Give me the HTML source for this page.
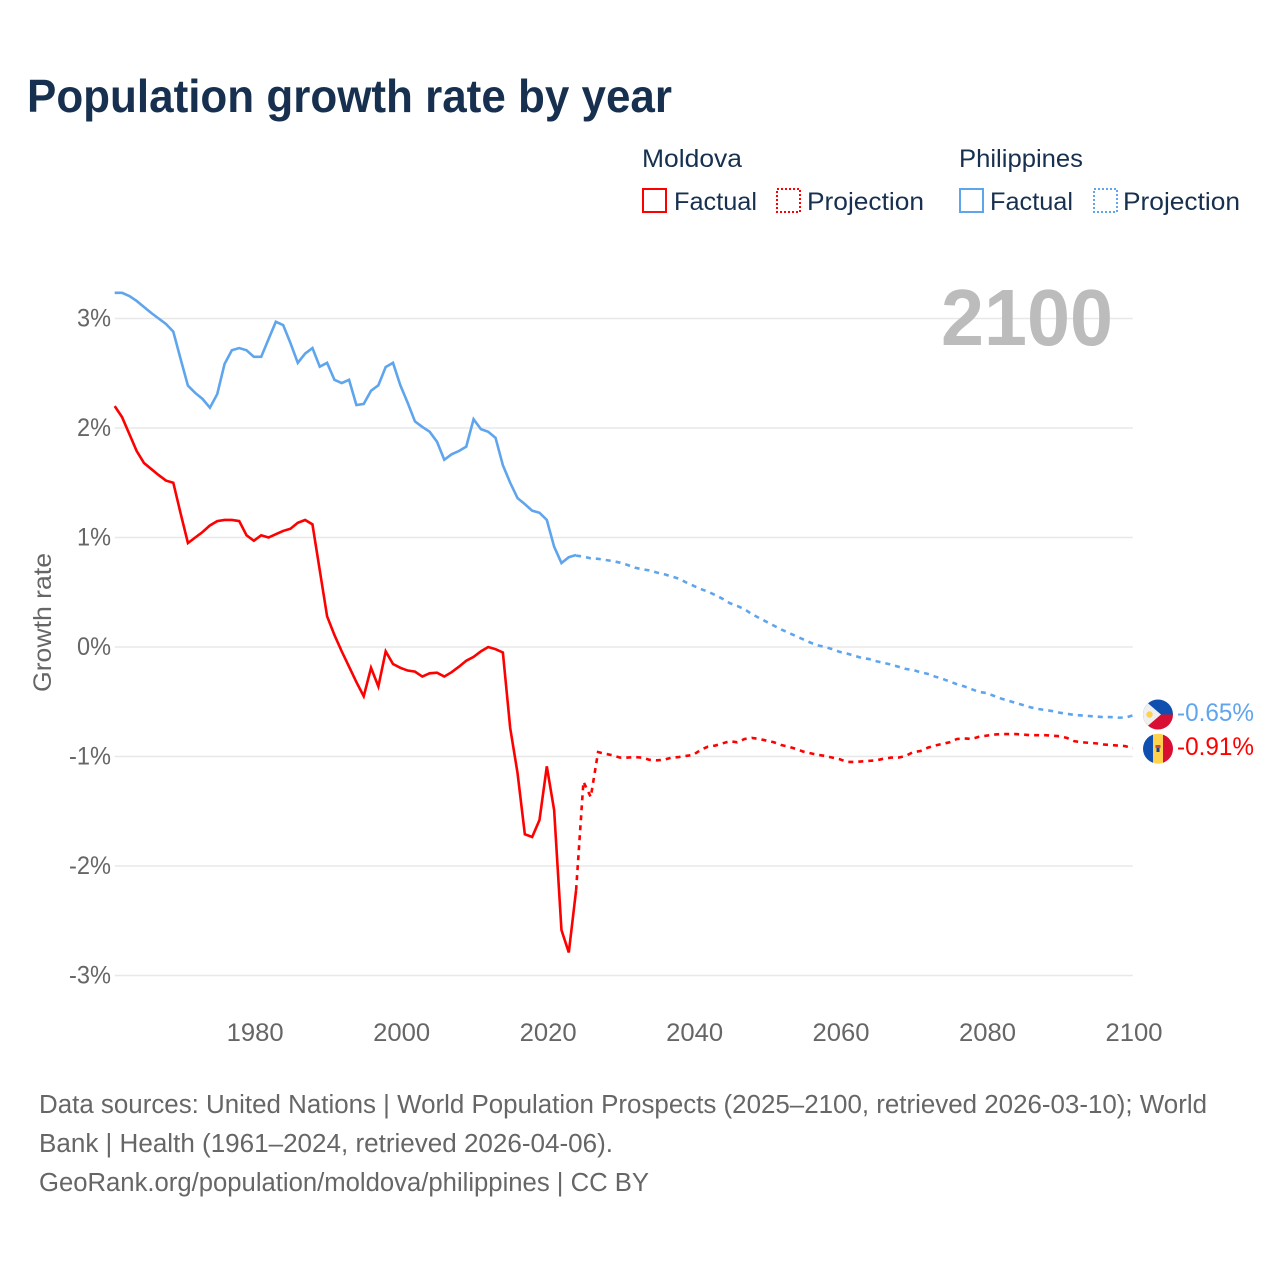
<!DOCTYPE html>
<html lang="en">
<head>
<meta charset="utf-8">
<title>Population growth rate by year</title>
<style>
html,body{margin:0;padding:0;background:#fff;}
svg{display:block;font-family:"Liberation Sans",sans-serif;}
.legend-text{font-size:25px;fill:#17304f;}
.tick{font-size:25px;fill:#666;}
.foot{font-size:25.5px;fill:#666;}
</style>
</head>
<body>
<svg id="chart" xmlns="http://www.w3.org/2000/svg" width="1280" height="1280" viewBox="0 0 1280 1280">
  <defs>
    <clipPath id="clip-ph"><circle cx="1158" cy="714.5" r="15"/></clipPath>
    <clipPath id="clip-md"><circle cx="1158" cy="748.7" r="15"/></clipPath>
  </defs>
  <rect width="1280" height="1280" fill="#fff"/>
  <text x="27" y="112" font-size="46" font-weight="700" fill="#17304f" textLength="645" lengthAdjust="spacingAndGlyphs">Population growth rate by year</text>

  <g>
    <text class="legend-text" x="642" y="167" textLength="100" lengthAdjust="spacingAndGlyphs">Moldova</text>
    <text class="legend-text" x="959" y="167" textLength="124" lengthAdjust="spacingAndGlyphs">Philippines</text>
    <rect x="643" y="189" width="23" height="23" fill="none" stroke="#ff0000" stroke-width="2"/>
    <text class="legend-text" x="674" y="210" textLength="83" lengthAdjust="spacingAndGlyphs">Factual</text>
    <rect x="777" y="189" width="23" height="23" fill="none" stroke="#ff0000" stroke-width="2" stroke-dasharray="2 2"/>
    <text class="legend-text" x="807" y="210" textLength="117" lengthAdjust="spacingAndGlyphs">Projection</text>
    <rect x="960" y="189" width="23" height="23" fill="none" stroke="#5fa5ee" stroke-width="2"/>
    <text class="legend-text" x="990" y="210" textLength="83" lengthAdjust="spacingAndGlyphs">Factual</text>
    <rect x="1094" y="189" width="23" height="23" fill="none" stroke="#5fa5ee" stroke-width="2" stroke-dasharray="2 2"/>
    <text class="legend-text" x="1123" y="210" textLength="117" lengthAdjust="spacingAndGlyphs">Projection</text>
  </g>

  <g id="grid"></g>
  <text x="1113" y="345" text-anchor="end" font-size="80" font-weight="700" fill="#bcbcbc" textLength="172" lengthAdjust="spacingAndGlyphs">2100</text>
  <g id="yticks"></g>
  <g id="xticks"></g>
  <text class="tick" transform="translate(51,622.5) rotate(-90)" text-anchor="middle" textLength="139" lengthAdjust="spacingAndGlyphs">Growth rate</text>
  <g id="series"></g>

  <g clip-path="url(#clip-ph)">
    <rect x="1143" y="699" width="30" height="16" fill="#0f4fb0"/>
    <rect x="1143" y="714.5" width="30" height="16" fill="#d80f32"/>
    <polygon points="1143,699 1161,714.5 1143,730" fill="#f0f0f0"/>
    <circle cx="1149.5" cy="714.5" r="3.2" fill="#ffd24d"/>
  </g>
  <g clip-path="url(#clip-md)">
    <rect x="1143" y="733" width="10" height="32" fill="#0f4fb0"/>
    <rect x="1153" y="733" width="10" height="32" fill="#ffd24d"/>
    <rect x="1163" y="733" width="10" height="32" fill="#d80f32"/>
    <rect x="1155.5" y="745" width="5" height="3" fill="#c0503a"/>
    <rect x="1156.5" y="748" width="3" height="4" fill="#1a3f8f"/>
  </g>
  <text x="1177" y="721" font-size="25" fill="#5fa5ee" textLength="77" lengthAdjust="spacingAndGlyphs">-0.65%</text>
  <text x="1177" y="755" font-size="25" fill="#ff0000" textLength="77" lengthAdjust="spacingAndGlyphs">-0.91%</text>

  <g>
    <text class="foot" x="39" y="1113" textLength="1168" lengthAdjust="spacingAndGlyphs">Data sources: United Nations | World Population Prospects (2025–2100, retrieved 2026-03-10); World</text>
    <text class="foot" x="39" y="1152" textLength="574" lengthAdjust="spacingAndGlyphs">Bank | Health (1961–2024, retrieved 2026-04-06).</text>
    <text class="foot" x="39" y="1191" textLength="610" lengthAdjust="spacingAndGlyphs">GeoRank.org/population/moldova/philippines | CC BY</text>
  </g>
</svg>
<script>
const yTickValues = [3, 2, 1, 0, -1, -2, -3];
const xTickYears = [1980, 2000, 2020, 2040, 2060, 2080, 2100];
const factualStartYear = 1961;
const projectionStartYear = 2024;

const moldovaFactual = [
  2.20, 2.10, 1.945, 1.79, 1.68, 1.625, 1.57, 1.52, 1.50, 1.22,
  0.95, 1.00, 1.05, 1.11, 1.15, 1.16, 1.16, 1.15, 1.02, 0.97,
  1.02, 1.00, 1.03, 1.06, 1.08, 1.135, 1.16, 1.12, 0.70, 0.28,
  0.11, -0.04, -0.18, -0.32, -0.45, -0.19, -0.36, -0.04, -0.155, -0.19,
  -0.215, -0.225, -0.27, -0.24, -0.235, -0.27, -0.23, -0.18, -0.125, -0.09,
  -0.04, 0.00, -0.02, -0.05, -0.74, -1.15, -1.71, -1.735, -1.58, -1.09,
  -1.49, -2.585, -2.79, -2.22
];
const philippinesFactual = [
  3.235, 3.235, 3.205, 3.16, 3.105, 3.05, 3.00, 2.95, 2.88, 2.63,
  2.386, 2.32, 2.265, 2.185, 2.31, 2.585, 2.71, 2.73, 2.71, 2.65,
  2.65, 2.81, 2.97, 2.94, 2.775, 2.595, 2.68, 2.73, 2.56, 2.595,
  2.44, 2.41, 2.44, 2.21, 2.22, 2.34, 2.39, 2.557, 2.595, 2.39,
  2.23, 2.06, 2.01, 1.966, 1.875, 1.71, 1.76, 1.79, 1.83, 2.08,
  1.99, 1.966, 1.91, 1.66, 1.50, 1.36, 1.305, 1.245, 1.226, 1.16,
  0.916, 0.767, 0.82, 0.84
];
const moldovaProjection = [
  -2.22, -1.23, -1.37, -0.96, -0.975, -0.99, -1.01, -1.01, -1.005, -1.01,
  -1.03, -1.035, -1.03, -1.01, -1.005, -0.995, -0.985, -0.94, -0.91, -0.90,
  -0.88, -0.86, -0.87, -0.84, -0.83, -0.84, -0.855, -0.87, -0.895, -0.91,
  -0.93, -0.955, -0.97, -0.985, -0.995, -1.01, -1.025, -1.05, -1.05, -1.045,
  -1.04, -1.035, -1.02, -1.01, -1.01, -0.995, -0.96, -0.95, -0.92, -0.90,
  -0.885, -0.87, -0.84, -0.835, -0.84, -0.82, -0.81, -0.80, -0.795, -0.795,
  -0.795, -0.80, -0.805, -0.805, -0.805, -0.81, -0.815, -0.83, -0.86, -0.87,
  -0.875, -0.88, -0.89, -0.895, -0.90, -0.905, -0.925
];
const philippinesProjection = [
  0.835, 0.825, 0.81, 0.805, 0.795, 0.785, 0.77, 0.75, 0.725, 0.71,
  0.70, 0.68, 0.665, 0.645, 0.625, 0.59, 0.56, 0.53, 0.505, 0.475,
  0.44, 0.40, 0.375, 0.345, 0.30, 0.265, 0.23, 0.195, 0.16, 0.13,
  0.10, 0.07, 0.04, 0.015, 0.00, -0.02, -0.045, -0.06, -0.08, -0.10,
  -0.11, -0.13, -0.145, -0.16, -0.18, -0.20, -0.21, -0.23, -0.245, -0.27,
  -0.29, -0.315, -0.34, -0.36, -0.385, -0.41, -0.42, -0.445, -0.47, -0.49,
  -0.51, -0.53, -0.55, -0.565, -0.575, -0.585, -0.60, -0.61, -0.62, -0.625,
  -0.63, -0.635, -0.64, -0.64, -0.645, -0.645, -0.625
];

const NS = 'http://www.w3.org/2000/svg';
function xScale(year) { return 114.7 + (year - 1961) * 7.324; }
function yScale(pct) { return 647 - pct * 109.5; }

function makeEl(tag, attrs, parentId) {
  const el = document.createElementNS(NS, tag);
  for (const k in attrs) el.setAttribute(k, attrs[k]);
  document.getElementById(parentId).appendChild(el);
  return el;
}

yTickValues.forEach(function (v) {
  const line = makeEl('line', { x1: xScale(1961), x2: xScale(2100), y1: yScale(v), y2: yScale(v), stroke: '#e8e8e8', 'stroke-width': 1.4 }, 'grid');
  
  
  const t = makeEl('text', { x: 111, y: yScale(v) + 8, 'text-anchor': 'end', class: 'tick', textLength: v < 0 ? 42 : 34, lengthAdjust: 'spacingAndGlyphs' }, 'yticks');
  t.textContent = v + '%';
  
  
});

xTickYears.forEach(function (yr) {
  const t = makeEl('text', { x: xScale(yr) + 1.3, y: 1041, 'text-anchor': 'middle', class: 'tick', textLength: 57, lengthAdjust: 'spacingAndGlyphs' }, 'xticks');
  t.textContent = String(yr);
  
  
});

function pathFor(values, startYear) {
  return values.map(function (v, i) {
    return (i ? 'L' : 'M') + xScale(startYear + i).toFixed(2) + ' ' + yScale(v).toFixed(2);
  }).join(' ');
}

const philippinesFactualLine = makeEl('path', { d: pathFor(philippinesFactual, factualStartYear), fill: 'none', stroke: '#5fa5ee', 'stroke-width': 2.6, 'stroke-linejoin': 'miter' }, 'series');



const philippinesProjectionLine = makeEl('path', { d: pathFor(philippinesProjection, projectionStartYear), fill: 'none', stroke: '#5fa5ee', 'stroke-width': 2.6, 'stroke-dasharray': '5 5' }, 'series');



const moldovaFactualLine = makeEl('path', { d: pathFor(moldovaFactual, factualStartYear), fill: 'none', stroke: '#ff0000', 'stroke-width': 2.6, 'stroke-linejoin': 'miter' }, 'series');



const moldovaProjectionLine = makeEl('path', { d: pathFor(moldovaProjection, projectionStartYear), fill: 'none', stroke: '#ff0000', 'stroke-width': 2.6, 'stroke-dasharray': '5 5' }, 'series');


</script>
</body>
</html>
